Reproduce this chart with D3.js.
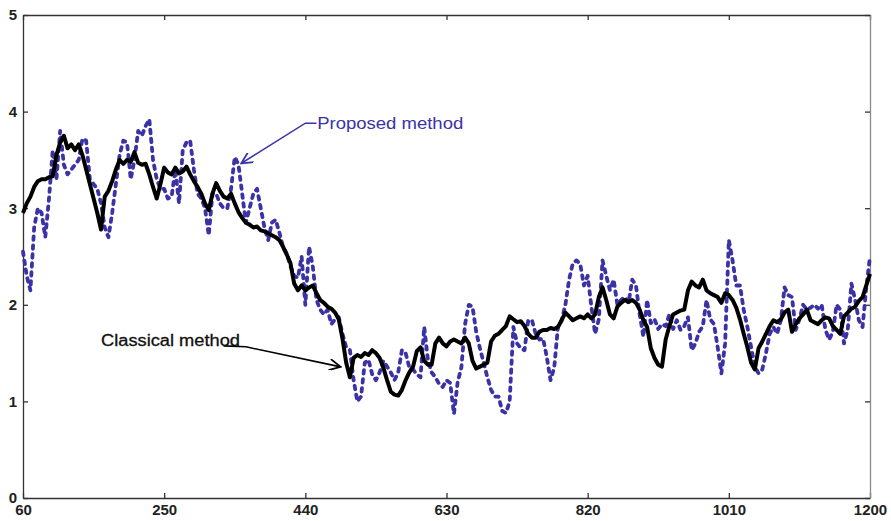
<!DOCTYPE html>
<html>
<head>
<meta charset="utf-8">
<script src="https://cdn.jsdelivr.net/npm/d3@7"></script>
<style>
  body { margin: 0; background: #fff; }
  svg { display: block; font-family: "Liberation Sans", Arial, sans-serif; }
  .axis text { font-size: 15px; font-weight: bold; fill: #222; }
  .axis path, .axis line { stroke: #333; stroke-width: 1.3; }
</style>
</head>
<body>
<div class="chart"></div>
<script>
'use strict';

// x positions of samples (step 5 from 60 to 1200)
var sampleX = d3.range(60, 1201, 5);

var xTicks = [60, 250, 440, 630, 820, 1010, 1200];
var yTicks = [0, 1, 2, 3, 4, 5];

// Classical method (black solid)
var classical = [
  2.95, 3.05, 3.12, 3.22, 3.28, 3.30, 3.30, 3.32, 3.33, 3.55,
  3.68, 3.75, 3.62, 3.66, 3.60, 3.66, 3.55, 3.40, 3.25, 3.10,
  2.95, 2.78, 3.12, 3.18, 3.28, 3.40, 3.50, 3.46, 3.50, 3.48,
  3.58, 3.47, 3.45, 3.46, 3.35, 3.22, 3.10, 3.25, 3.42, 3.37,
  3.35, 3.42, 3.36, 3.38, 3.43, 3.35, 3.28, 3.22, 3.15, 3.05,
  2.98, 3.15, 3.26, 3.18, 3.12, 3.10, 3.15, 3.05, 2.96, 2.90,
  2.85, 2.83, 2.80, 2.81, 2.77, 2.76, 2.74, 2.72, 2.70, 2.67,
  2.60, 2.52, 2.43, 2.22, 2.15, 2.20, 2.15, 2.18, 2.20, 2.12,
  2.05, 2.02, 1.98, 1.96, 1.92, 1.85, 1.65, 1.40, 1.25, 1.45,
  1.48, 1.46, 1.50, 1.48, 1.53, 1.50, 1.45, 1.35, 1.22, 1.10,
  1.07, 1.06, 1.12, 1.22, 1.30, 1.36, 1.52, 1.56, 1.42, 1.38,
  1.38, 1.60, 1.66, 1.60, 1.57, 1.62, 1.64, 1.62, 1.60, 1.66,
  1.60, 1.42, 1.34, 1.36, 1.38, 1.40, 1.62, 1.68, 1.70, 1.74,
  1.78, 1.88, 1.85, 1.82, 1.83, 1.78, 1.70, 1.66, 1.66, 1.72,
  1.74, 1.74, 1.76, 1.75, 1.77, 1.84, 1.92, 1.88, 1.84, 1.86,
  1.88, 1.86, 1.90, 1.86, 1.90, 2.08, 2.18, 2.05, 1.90, 1.86,
  1.98, 2.02, 2.05, 2.03, 2.05, 2.02, 1.95, 1.84, 1.77, 1.55,
  1.45, 1.38, 1.36, 1.64, 1.78, 1.90, 1.92, 1.94, 1.95, 2.15,
  2.24, 2.20, 2.18, 2.26, 2.15, 2.12, 2.10, 2.08, 2.02, 2.12,
  2.10, 2.05, 1.97, 1.85, 1.70, 1.56, 1.40, 1.33, 1.55, 1.62,
  1.70, 1.78, 1.84, 1.82, 1.85, 1.92, 1.95, 1.72, 1.80, 1.86,
  1.90, 1.95, 1.84, 1.82, 1.80, 1.84, 1.87, 1.86, 1.78, 1.74,
  1.70, 1.88, 1.92, 1.96, 1.98, 2.04, 2.08, 2.20, 2.32
];

// Proposed method (blue dashed)
var proposed = [
  2.55, 2.30, 2.15, 2.80, 3.00, 2.95, 2.70, 3.10, 3.60, 3.30,
  3.80, 3.45, 3.35, 3.40, 3.45, 3.50, 3.72, 3.70, 3.30, 3.25,
  3.20, 3.05, 2.80, 2.70, 2.95, 3.25, 3.55, 3.70, 3.68, 3.30,
  3.50, 3.80, 3.75, 3.85, 3.92, 3.50, 3.30, 3.20, 3.20, 3.10,
  3.12, 3.40, 3.05, 3.60, 3.68, 3.70, 3.40, 3.15, 3.10, 3.00,
  2.72, 3.15, 3.15, 3.05, 3.00, 3.00, 3.20, 3.53, 3.45, 3.15,
  2.85, 3.00, 3.15, 3.20, 3.00, 2.80, 2.67, 2.85, 2.88, 2.75,
  2.60, 2.53, 2.40, 2.30, 2.28, 2.50, 2.00, 2.60, 2.40, 2.05,
  1.95, 1.90, 1.95, 1.80, 1.85, 1.87, 1.70, 1.56, 1.53, 1.22,
  1.00, 1.05, 1.40, 1.43, 1.28, 1.22, 1.30, 1.42, 1.36, 1.30,
  1.22, 1.30, 1.53, 1.50, 1.35, 1.33, 1.28, 1.25, 1.77, 1.43,
  1.30, 1.25, 1.18, 1.15, 1.22, 1.19, 0.87, 1.20, 1.35, 1.80,
  2.00, 1.98, 1.72, 1.55, 1.40, 1.25, 1.12, 1.05, 1.05, 0.90,
  0.88, 1.00, 1.77, 1.60, 1.55, 1.53, 1.84, 1.84, 1.70, 1.64,
  1.65, 1.46, 1.22, 1.35, 1.77, 1.84, 2.00, 2.26, 2.43, 2.46,
  2.42, 2.20, 2.30, 1.98, 1.70, 1.85, 2.46, 2.30, 2.15, 2.26,
  2.00, 2.05, 2.08, 2.02, 2.26, 2.20, 1.90, 1.67, 2.05, 1.81,
  1.85, 1.75, 1.80, 1.78, 1.90, 1.75, 1.84, 1.74, 1.78, 1.87,
  1.53, 1.60, 1.72, 1.78, 2.05, 1.85, 1.80, 1.56, 1.29, 1.60,
  2.67, 2.46, 2.20, 2.20, 1.95, 1.77, 1.56, 1.36, 1.29, 1.33,
  1.50, 1.70, 1.77, 1.70, 1.84, 2.18, 2.10, 2.08, 1.74, 1.85,
  2.00, 1.95, 1.97, 2.00, 1.96, 2.00, 1.74, 1.64, 1.72, 2.00,
  1.95, 1.60, 1.74, 2.22, 2.05, 1.84, 1.77, 2.18, 2.50
];

var width = 891, height = 521;
var margin = {top: 15, right: 21, bottom: 23, left: 23};
var innerW = width - margin.left - margin.right,
    innerH = height - margin.top - margin.bottom;

var svg = d3.select('.chart').append('svg')
  .attr('width', width)
  .attr('height', height);

var g = svg.append('g')
  .attr('transform', 'translate(' + margin.left + ',' + margin.top + ')');

var x = d3.scaleLinear().domain([60, 1200]).range([0, innerW]);
var y = d3.scaleLinear().domain([0, 5]).range([innerH, 0]);

// box axes with inward ticks
g.append('g').attr('class', 'axis')
  .attr('transform', 'translate(0,' + innerH + ')')
  .call(d3.axisBottom(x).tickValues(xTicks).tickFormat(d3.format('d'))
    .tickSizeInner(-5).tickSizeOuter(0).tickPadding(4))
  .selectAll('text').attr('dy', '0.85em');

g.append('g').attr('class', 'axis')
  .call(d3.axisLeft(y).tickValues(yTicks).tickFormat(d3.format('d'))
    .tickSizeInner(-5).tickSizeOuter(0).tickPadding(6));

g.append('g').attr('class', 'axis')
  .call(d3.axisTop(x).tickValues(xTicks).tickFormat('')
    .tickSizeInner(-5).tickSizeOuter(0));

g.append('g').attr('class', 'axis')
  .attr('transform', 'translate(' + innerW + ',0)')
  .call(d3.axisRight(y).tickValues(yTicks).tickFormat('')
    .tickSizeInner(-5).tickSizeOuter(0))
  .select('path').style('stroke', '#8a8a8a');

var line = d3.line()
  .x(function(d, i) { return x(sampleX[i]); })
  .y(function(d) { return y(d); });

g.append('path')
  .datum(proposed)
  .attr('fill', 'none')
  .attr('stroke', '#3b32a6')
  .attr('stroke-width', 3.8)
  .attr('stroke-dasharray', '3.5,5.5')
  .attr('stroke-linecap', 'round')
  .attr('stroke-linejoin', 'round')
  .attr('d', line);

g.append('path')
  .datum(classical)
  .attr('fill', 'none')
  .attr('stroke', '#000')
  .attr('stroke-width', 4)
  .attr('stroke-linejoin', 'round')
  .attr('d', line);

// annotations
var defs = svg.append('defs');
function arrowHead(id, color) {
  defs.append('marker')
    .attr('id', id)
    .attr('viewBox', '0 0 10 10')
    .attr('refX', 9).attr('refY', 5)
    .attr('markerWidth', 9).attr('markerHeight', 7)
    .attr('orient', 'auto-start-reverse')
    .append('path')
      .attr('d', 'M0,0 L10,5 L0,10')
      .attr('fill', 'none')
      .attr('stroke', color)
      .attr('stroke-width', 1.6);
}
arrowHead('arrowBlue', '#3b32a6');
arrowHead('arrowBlack', '#000');

// Proposed method label
g.append('path')
  .attr('d', d3.line()([[x(455), y(3.88)], [x(440), y(3.88)], [x(355), y(3.47)]]))
  .attr('fill', 'none')
  .attr('stroke', '#3b32a6')
  .attr('stroke-width', 1.6)
  .attr('marker-end', 'url(#arrowBlue)');

g.append('text')
  .attr('x', x(456)).attr('y', y(3.88))
  .attr('dy', '0.35em')
  .attr('textLength', 146)
  .attr('lengthAdjust', 'spacingAndGlyphs')
  .style('font-size', '16px')
  .style('fill', '#3b32a6')
  .text('Proposed method');

// Classical method label
g.append('path')
  .attr('d', d3.line()([[x(330), y(1.575)], [x(360), y(1.565)], [x(486), y(1.36)]]))
  .attr('fill', 'none')
  .attr('stroke', '#000')
  .attr('stroke-width', 1.6)
  .attr('marker-end', 'url(#arrowBlack)');

g.append('text')
  .attr('x', x(165)).attr('y', y(1.63))
  .attr('dy', '0.35em')
  .attr('textLength', 139)
  .attr('lengthAdjust', 'spacingAndGlyphs')
  .style('font-size', '16px')
  .style('fill', '#111')
  .style('stroke', '#111')
  .style('stroke-width', 0.3)
  .text('Classical method');
</script>
</body>
</html>
